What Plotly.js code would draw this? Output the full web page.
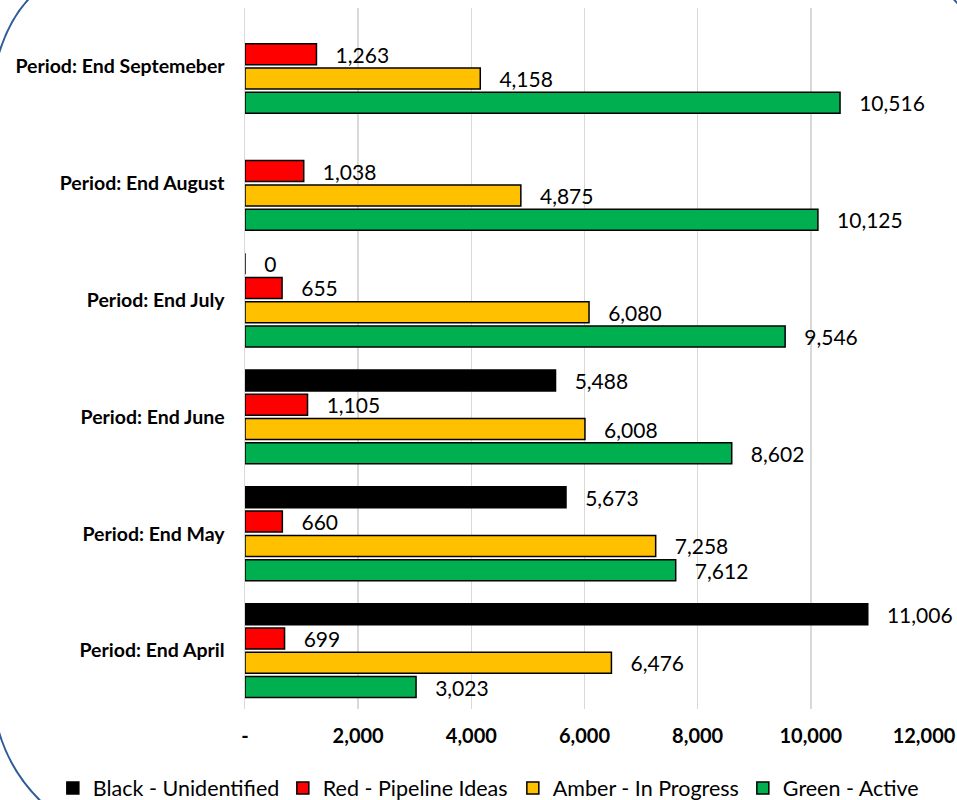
<!DOCTYPE html>
<html>
<head>
<meta charset="utf-8">
<script src="https://cdn.plot.ly/plotly-3.0.1.min.js"></script>
<style>html,body{margin:0;padding:0;background:#fff;}#chart{width:957px;height:800px;}</style>
</head>
<body>
<div id="chart"></div>
<script>
// Categories bottom-to-top
const categories = ["Period: End April", "Period: End May", "Period: End June", "Period: End July", "Period: End August", "Period: End Septemeber"];
const blackValues = [11006, 5673, 5488, 0, null, null];
const redValues = [699, 660, 1105, 655, 1038, 1263];
const amberValues = [6476, 7258, 6008, 6080, 4875, 4158];
const greenValues = [3023, 7612, 8602, 9546, 10125, 10516];
const seriesNames = ["Black - Unidentified", "Red - Pipeline Ideas", "Amber - In Progress", "Green - Active"];
const xTickVals = [0, 2000, 4000, 6000, 8000, 10000, 12000];
const xTickText = ["-", "2,000", "4,000", "6,000", "8,000", "10,000", "12,000"];

const W = 957, H = 800, L = 245, R = 33, T = 8, B = 91;
const PW = W - L - R, PH = H - T - B;
const px = v => ((v - L) / PW).toFixed(4);
const py = v => ((H - B - v) / PH).toFixed(4);

const pad = "\u00a0\u00a0\u00a0";
function fmt(v) { return v == null ? "" : pad + v.toLocaleString("en-US"); }

function mk(name, vals, color) {
  return {
    type: "bar", orientation: "h", name: name,
    y: categories, x: vals,
    marker: { color: color, line: { color: "#000000", width: 1.5 } },
    text: vals.map(fmt), textposition: "outside", constraintext: "none", cliponaxis: false,
    textfont: { family: "Lato, sans-serif", size: 21, color: "#000000" },
    hoverinfo: "x+name"
  };
}

const data = [
  mk(seriesNames[3], greenValues, "#00B050"),
  mk(seriesNames[2], amberValues, "#FFC000"),
  mk(seriesNames[1], redValues, "#FF0000"),
  mk(seriesNames[0], blackValues, "#000000")
];

function curve(a) {
  return `M ${px(a[0])},${py(a[1])} Q ${px(a[2])},${py(a[3])} ${px(a[4])},${py(a[5])}`;
}
const borderStyle = { color: "#2F5C97", width: 2 };
const shapes = [
  [36, -8, 6, 18, -6, 72],
  [-5, 715, 5, 770, 48, 808],
  [952, -3, 955, 1, 960, 6],
  [960, 775, 953, 789, 946, 802]
].map(a => ({ type: "path", xref: "paper", yref: "paper", path: curve(a), line: borderStyle, layer: "above" }));

const layout = {
  width: W, height: H,
  margin: { l: L, r: R, t: T, b: B, pad: 0, autoexpand: false },
  paper_bgcolor: "#ffffff", plot_bgcolor: "#ffffff",
  barmode: "group", bargap: 0.168, bargroupgap: 0.136,
  font: { family: "Lato, sans-serif", color: "#000000" },
  showlegend: true,
  legend: {
    orientation: "h", traceorder: "reversed",
    xref: "paper", yref: "paper",
    x: -0.283, xanchor: "left", y: -0.1127, yanchor: "middle",
    font: { family: "Lato, sans-serif", size: 21.5, color: "#000000" },
    itemwidth: 30, entrywidth: 185, entrywidthmode: "pixels"
  },
  xaxis: {
    range: [0, 12000], tickvals: xTickVals, ticktext: xTickText,
    showgrid: true, gridcolor: "#D9D9D9", gridwidth: 1.5,
    zeroline: false, showline: false, ticks: "",
    ticklabelstandoff: 13,
    tickfont: { family: "Lato, sans-serif", size: 20, color: "#000000", weight: "bold" },
    fixedrange: true
  },
  yaxis: {
    type: "category", range: [-0.5, 5.5],
    showgrid: false, zeroline: false,
    showline: true, linecolor: "#D9D9D9", linewidth: 1.5,
    ticks: "", ticklabelstandoff: 15,
    tickfont: { family: "Lato, sans-serif", size: 19.5, color: "#000000", weight: "bold" },
    fixedrange: true
  },
  shapes: shapes
};

Plotly.newPlot("chart", data, layout, { displayModeBar: false, staticPlot: true });
</script>
</body>
</html>
